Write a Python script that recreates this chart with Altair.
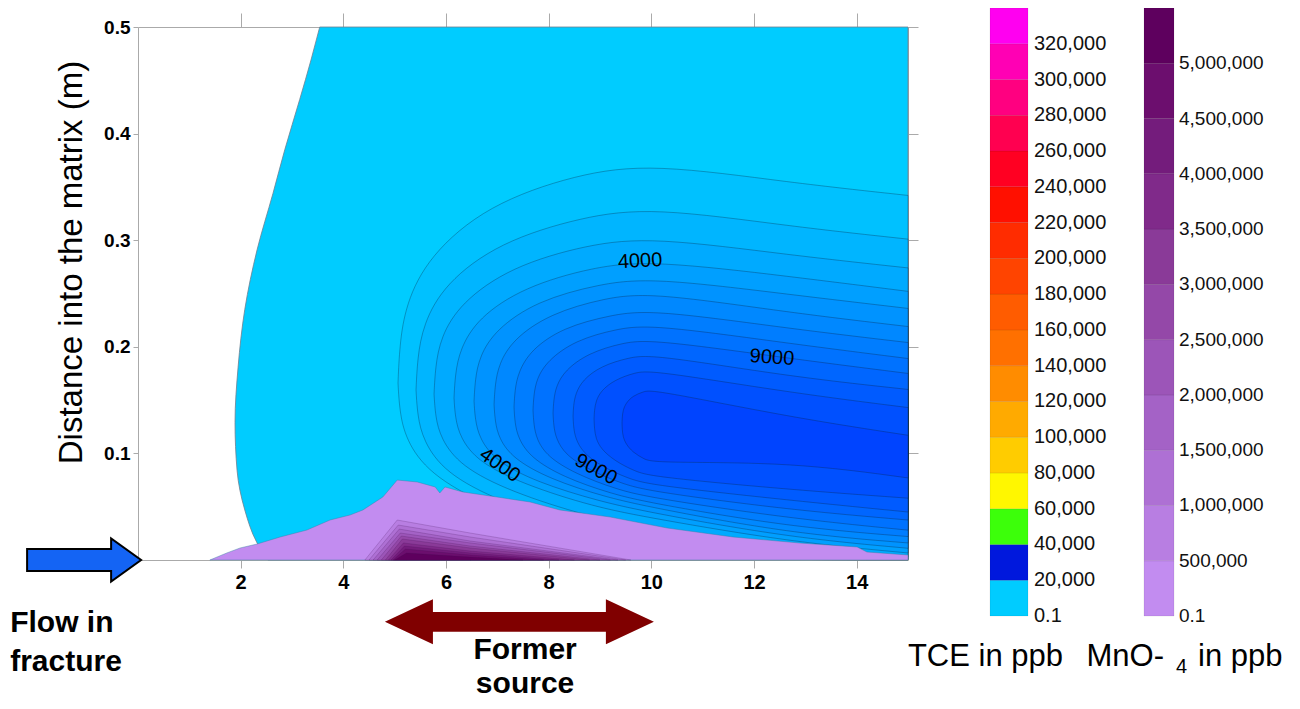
import altair as alt
import pandas as pd

# ---------------- data ----------------
# outer 0.1 ppb edge of the TCE plume: x (m) at each depth y (m)
edge_y = [0.0, 0.016, 0.047, 0.084, 0.129, 0.181, 0.235, 0.291, 0.344, 0.385, 0.432, 0.469, 0.5]
edge_x = [2.53, 2.32, 2.08, 1.93, 1.89, 1.95, 2.08, 2.32, 2.63, 2.86, 3.15, 3.37, 3.54]

# TCE contour levels (ppb): each closed contour as x, lower y, upper y
tce_levels = [1000, 2000, 3000, 4000, 5000, 6000, 7000, 8000, 9000, 10000, 11000, 12000]
tce_x = [
    [5.065, 5.095, 5.214, 5.661, 6.803, 8.541, 10.03, 12.7, 15.0],
    [5.416, 5.444, 5.554, 5.970, 7.031, 8.646, 10.03, 12.7, 15.0],
    [5.767, 5.793, 5.895, 6.279, 7.259, 8.751, 10.03, 12.7, 15.0],
    [6.156, 6.179, 6.272, 6.621, 7.512, 8.868, 10.03, 12.7, 15.0],
    [6.546, 6.567, 6.651, 6.964, 7.765, 8.985, 10.03, 12.7, 15.0],
    [6.936, 6.955, 7.029, 7.307, 8.019, 9.102, 10.03, 12.7, 15.0],
    [7.325, 7.341, 7.406, 7.650, 8.272, 9.219, 10.03, 12.7, 15.0],
    [7.695, 7.709, 7.765, 7.975, 8.512, 9.330, 10.03, 12.7, 15.0],
    [8.085, 8.097, 8.143, 8.318, 8.766, 9.447, 10.03, 12.7, 15.0],
    [8.475, 8.484, 8.522, 8.662, 9.019, 9.564, 10.03, 12.7, 15.0],
    [8.884, 8.891, 8.918, 9.022, 9.285, 9.686, 10.03, 12.7, 15.0],
    [9.429, 9.433, 9.447, 9.501, 9.639, 9.850, 10.03, 12.7, 15.0],
]
tce_hi = [
    [0.166, 0.201, 0.240, 0.285, 0.333, 0.362, 0.372, 0.354, 0.342],
    [0.1595, 0.189, 0.221, 0.259, 0.298, 0.322, 0.331, 0.313, 0.301],
    [0.1557, 0.181, 0.209, 0.241, 0.275, 0.296, 0.303, 0.286, 0.274],
    [0.152, 0.174, 0.198, 0.227, 0.256, 0.275, 0.281, 0.266, 0.252],
    [0.149, 0.169, 0.191, 0.216, 0.243, 0.259, 0.265, 0.249, 0.236],
    [0.146, 0.164, 0.184, 0.207, 0.231, 0.246, 0.251, 0.232, 0.219],
    [0.1435, 0.159, 0.176, 0.197, 0.218, 0.230, 0.235, 0.217, 0.204],
    [0.1407, 0.1544, 0.170, 0.187, 0.206, 0.217, 0.221, 0.203, 0.189],
    [0.1379, 0.1496, 0.163, 0.178, 0.194, 0.204, 0.207, 0.189, 0.175],
    [0.1351, 0.1449, 0.156, 0.169, 0.182, 0.190, 0.193, 0.172, 0.160],
    [0.1323, 0.1401, 0.149, 0.159, 0.169, 0.176, 0.178, 0.157, 0.143],
    [0.1285, 0.1339, 0.140, 0.147, 0.154, 0.158, 0.160, 0.134, 0.117],
]
tce_lo = [
    [0.166, 0.140, 0.113, 0.081, 0.050, 0.021, 0.005, 0.0, 0.0],
    [0.1595, 0.136, 0.112, 0.082, 0.055, 0.029, 0.014, 0.0075, 0.001],
    [0.1557, 0.135, 0.114, 0.088, 0.064, 0.041, 0.028, 0.012, 0.003],
    [0.152, 0.134, 0.115, 0.092, 0.071, 0.050, 0.039, 0.017, 0.0066],
    [0.149, 0.132, 0.114, 0.093, 0.073, 0.055, 0.044, 0.021, 0.011],
    [0.146, 0.1305, 0.114, 0.095, 0.076, 0.059, 0.049, 0.025, 0.016],
    [0.1435, 0.129, 0.114, 0.096, 0.078, 0.062, 0.053, 0.031, 0.022],
    [0.1407, 0.1275, 0.113, 0.097, 0.081, 0.066, 0.058, 0.039, 0.028],
    [0.1379, 0.126, 0.114, 0.099, 0.085, 0.071, 0.064, 0.047, 0.0375],
    [0.1351, 0.1247, 0.114, 0.101, 0.088, 0.076, 0.070, 0.056, 0.045],
    [0.1323, 0.1236, 0.114, 0.104, 0.093, 0.083, 0.078, 0.066, 0.058],
    [0.1285, 0.1225, 0.116, 0.109, 0.101, 0.095, 0.091, 0.092, 0.077],
]
tce_fill = ['#00CCFF', '#00C1FF', '#00B5FF', '#00AAFF', '#009FFF', '#0093FF', '#0088FF',
            '#007DFF', '#0072FF', '#0066FF', '#005BFF', '#0050FF', '#0044FF']

# MnO4- : outer (0.1 ppb) top edge
mn_x = [1.40, 1.73, 1.99, 2.32, 2.77, 3.29, 3.74, 4.13, 4.38, 4.77, 5.05, 5.44, 5.79, 5.88, 5.98,
        6.33, 6.99, 7.64, 8.22, 9.20, 10.31, 11.59, 12.90, 14.01, 14.20, 15.0]
mn_top = [0.0, 0.0066, 0.0113, 0.015, 0.0216, 0.0281, 0.0375, 0.0422, 0.0469, 0.0591, 0.0750, 0.0732,
          0.0685, 0.0629, 0.0685, 0.0638, 0.0591, 0.0544, 0.0469, 0.0403, 0.0300, 0.0216, 0.0159,
          0.0122, 0.0075, 0.0047]
mn_levels = [500000, 1000000, 1500000, 2000000, 2500000, 3000000, 3500000, 4000000, 4500000, 5000000]
mn_lx = [
    [4.42, 5.05, 6.47, 9.60], [4.50, 5.07, 6.47, 9.50], [4.58, 5.09, 6.47, 9.35],
    [4.66, 5.11, 6.47, 9.20], [4.74, 5.13, 6.47, 9.00], [4.82, 5.15, 6.47, 8.80],
    [4.88, 5.17, 6.47, 8.50], [4.93, 5.19, 6.47, 8.20], [4.97, 5.21, 6.47, 7.90],
    [5.00, 5.23, 6.47, 7.50],
]
mn_ly = [
    [0, 0.0375, 0.0253, 0], [0, 0.0328, 0.0216, 0], [0, 0.0290, 0.0178, 0],
    [0, 0.0253, 0.0160, 0], [0, 0.0225, 0.0131, 0], [0, 0.0197, 0.0113, 0],
    [0, 0.0160, 0.0084, 0], [0, 0.0131, 0.0066, 0], [0, 0.0103, 0.0047, 0],
    [0, 0.0066, 0.0028, 0],
]
mn_colors = ['#C28CF0', '#B87EE2', '#AE70D4', '#A462C6', '#9C55B8', '#9448A8', '#8A3A98',
             '#802A8A', '#741C7C', '#6C0E6E', '#5E005E']

# contour labels
lab_text = ['4000', '9000', '4000', '9000']
lab_x = [9.78, 12.35, 7.05, 8.92]
lab_y = [0.2805, 0.190, 0.089, 0.085]
lab_angle = [357, 4, 35, 28]

# axes
x_ticks = [2, 4, 6, 8, 10, 12, 14]
y_ticks = [0.1, 0.2, 0.3, 0.4, 0.5]

# colour bars
tce_breaks = [0.1, 20000, 40000, 60000, 80000, 100000, 120000, 140000, 160000, 180000, 200000,
              220000, 240000, 260000, 280000, 300000, 320000, 340000]
tce_labels = ['0.1', '20,000', '40,000', '60,000', '80,000', '100,000', '120,000', '140,000',
              '160,000', '180,000', '200,000', '220,000', '240,000', '260,000', '280,000',
              '300,000', '320,000']
tce_colors = ['#00CCFF', '#0018DD', '#3CFF0A', '#FFF700', '#FFCC00', '#FFAA00', '#FF8C00', '#FF7000',
              '#FF5C00', '#FF4400', '#FF2C00', '#FF1000', '#FF0022', '#FF0050', '#FF0080', '#FF00B4',
              '#FF00F0']
mn_breaks = [0.1, 500000, 1000000, 1500000, 2000000, 2500000, 3000000, 3500000, 4000000, 4500000,
             5000000, 5500000]
mn_labels = ['0.1', '500,000', '1,000,000', '1,500,000', '2,000,000', '2,500,000', '3,000,000',
             '3,500,000', '4,000,000', '4,500,000', '5,000,000']

# annotations
arrow_blue = {'x': [-1.05], 'y': [0.0]}
arrow_red = {'x': [7.43], 'y': [-0.058]}
notes_text = ['Flow in', 'fracture', 'Former', 'source']
notes_x = [-2.49, -2.49, 7.54, 7.54]
notes_y = [-0.059, -0.0957, -0.0845, -0.1165]
notes_align = ['left', 'left', 'center', 'center']

# ---------------- chart ----------------
SANS = "Liberation Sans, Arial, sans-serif"

xsc = alt.Scale(domain=[0, 15], nice=False, zero=False)
ysc = alt.Scale(domain=[0, 0.5], nice=False, zero=False)

layers = []
edge_df = pd.DataFrame({'y': edge_y, 'x': edge_x})
layers.append(
    alt.Chart(edge_df).mark_area(orient='horizontal', interpolate='monotone', fill=tce_fill[0],
                                 opacity=1, stroke='#6f8090', strokeWidth=0.8)
    .encode(y=alt.Y('y:Q', scale=ysc, axis=None), x=alt.X('x:Q', scale=xsc, axis=None),
            x2=alt.datum(15))
)
for i, lev in enumerate(tce_levels):
    df = pd.DataFrame({'x': tce_x[i], 'lo': tce_lo[i], 'hi': tce_hi[i]})
    layers.append(
        alt.Chart(df).mark_area(orient='vertical', interpolate='basis', fill=tce_fill[i + 1],
                                opacity=1, stroke='#0a2540', strokeWidth=0.55, strokeOpacity=0.6)
        .encode(x=alt.X('x:Q', scale=xsc, axis=None), y=alt.Y('lo:Q', scale=ysc, axis=None),
                y2='hi:Q')
    )

mn_df = pd.DataFrame({'x': mn_x, 'top': mn_top})
layers.append(
    alt.Chart(mn_df).mark_area(orient='vertical', fill=mn_colors[0], opacity=1,
                               stroke='#2f7f9f', strokeWidth=0.6, strokeOpacity=0.7)
    .encode(x=alt.X('x:Q', scale=xsc, axis=None), y=alt.Y('top:Q', scale=ysc, axis=None),
            y2=alt.datum(0))
)
for i, lev in enumerate(mn_levels):
    df = pd.DataFrame({'x': mn_lx[i], 'top': mn_ly[i]})
    layers.append(
        alt.Chart(df).mark_area(orient='vertical', fill=mn_colors[i + 1], opacity=1,
                                stroke='#3a1050', strokeWidth=0.5, strokeOpacity=0.4)
        .encode(x=alt.X('x:Q', scale=xsc, axis=None), y=alt.Y('top:Q', scale=ysc, axis=None),
                y2=alt.datum(0))
    )

lab_df = pd.DataFrame({'x': lab_x, 'y': lab_y, 't': lab_text, 'a': lab_angle})
layers.append(
    alt.Chart(lab_df).mark_text(font=SANS, fontSize=20, color='black', baseline='middle')
    .encode(x=alt.X('x:Q', scale=xsc, axis=None), y=alt.Y('y:Q', scale=ysc, axis=None),
            text='t:N', angle=alt.Angle('a:Q', scale=None))
)

frame_df = pd.DataFrame({'x': [0, 15], 'y': [0, 0.5]})
layers.append(
    alt.Chart(frame_df).mark_point(opacity=0).encode(
        x=alt.X('x:Q', scale=xsc, axis=alt.Axis(
            orient='bottom', values=x_ticks, format='d', title=None, grid=False,
            labelFont=SANS, labelFontWeight='bold', labelFontSize=20, labelColor='black',
            labelPadding=4, tickSize=8, tickColor='#aaaaaa', domainColor='#aaaaaa')),
        y=alt.Y('y:Q', scale=ysc, axis=alt.Axis(
            orient='left', values=y_ticks, format='.1f', grid=False,
            labelFont=SANS, labelFontWeight='bold', labelFontSize=19, labelColor='black',
            labelPadding=3, tickSize=5, tickColor='#aaaaaa', domainColor='#aaaaaa',
            title='Distance into the matrix (m)', titleFont=SANS, titleFontSize=33,
            titleFontWeight='normal', titleColor='black', titleX=-67, titleY=235,
            titleAngle=270, titleAlign='center', titleBaseline='middle')),
    )
)
layers.append(
    alt.Chart(frame_df).mark_point(opacity=0).encode(
        x=alt.X('x:Q', scale=xsc, axis=alt.Axis(
            orient='top', values=x_ticks, labels=False, title=None, grid=False,
            tickSize=14, tickColor='#aaaaaa', domainColor='#aaaaaa')),
        y=alt.Y('y:Q', scale=ysc, axis=alt.Axis(
            orient='right', values=y_ticks, labels=False, title=None, grid=False,
            tickSize=10, tickColor='#aaaaaa', domainColor='#aaaaaa')),
    )
)

blue_path = "M -1 -0.193 L 0.474 -0.193 L 0.474 -0.377 L 1 0 L 0.474 0.377 L 0.474 0.193 L -1 0.193 Z"
red_path = ("M -1 0 L -0.643 -0.167 L -0.643 -0.074 L 0.643 -0.074 L 0.643 -0.167 L 1 0 "
            "L 0.643 0.167 L 0.643 0.074 L -0.643 0.074 L -0.643 0.167 Z")
layers.append(
    alt.Chart(pd.DataFrame(arrow_blue)).mark_point(
        shape=blue_path, size=12996, filled=True, fill='#1464F4', stroke='black',
        strokeWidth=2, opacity=1)
    .encode(x=alt.X('x:Q', scale=xsc, axis=None), y=alt.Y('y:Q', scale=ysc, axis=None))
)
layers.append(
    alt.Chart(pd.DataFrame(arrow_red)).mark_point(
        shape=red_path, size=72361, filled=True, fill='#800000', strokeWidth=0, opacity=1)
    .encode(x=alt.X('x:Q', scale=xsc, axis=None), y=alt.Y('y:Q', scale=ysc, axis=None))
)
notes_df = pd.DataFrame({'x': notes_x, 'y': notes_y, 't': notes_text, 'al': notes_align})
for al in ['left', 'center']:
    layers.append(
        alt.Chart(notes_df[notes_df['al'] == al]).mark_text(
            font=SANS, fontSize=30, fontWeight='bold', color='black', align=al, baseline='middle')
        .encode(x=alt.X('x:Q', scale=xsc, axis=None), y=alt.Y('y:Q', scale=ysc, axis=None),
                text='t:N')
    )

main = alt.layer(*layers)

# ---- colour bars (own y scales) ----
tce_sc = alt.Scale(domain=[0.1, 340000], range=[589, -19], nice=False, zero=False)
tce_df = pd.DataFrame({'lo': tce_breaks[:-1], 'hi': tce_breaks[1:], 'c': tce_colors,
                       'lab': tce_labels})
tce_bar = alt.layer(
    alt.Chart(tce_df).mark_rect(stroke='black', strokeWidth=0.6, strokeOpacity=0.12).encode(
        y=alt.Y('lo:Q', scale=tce_sc, axis=None), y2='hi:Q',
        x=alt.value(852), x2=alt.value(890), color=alt.Color('c:N', scale=None)),
    alt.Chart(tce_df).mark_text(font=SANS, fontSize=20, align='left', baseline='middle',
                                color='#111111').encode(
        y=alt.Y('lo:Q', scale=tce_sc, axis=None), x=alt.value(896), text='lab:N'),
    alt.Chart(pd.DataFrame({'t': ['TCE in ppb']})).mark_text(
        font=SANS, fontSize=31, align='right', baseline='middle', color='black').encode(
        x=alt.value(925), y=alt.value(630), text='t:N'),
)

mn_sc = alt.Scale(domain=[0.1, 5500000], range=[589, -19], nice=False, zero=False)
mnb_df = pd.DataFrame({'lo': mn_breaks[:-1], 'hi': mn_breaks[1:], 'c': mn_colors,
                       'lab': mn_labels})
mn_bar = alt.layer(
    alt.Chart(mnb_df).mark_rect(stroke='black', strokeWidth=0.6, strokeOpacity=0.12).encode(
        y=alt.Y('lo:Q', scale=mn_sc, axis=None), y2='hi:Q',
        x=alt.value(1006), x2=alt.value(1036), color=alt.Color('c:N', scale=None)),
    alt.Chart(mnb_df).mark_text(font=SANS, fontSize=19, align='left', baseline='middle',
                                color='#111111').encode(
        y=alt.Y('lo:Q', scale=mn_sc, axis=None), x=alt.value(1041), text='lab:N'),
    alt.Chart(pd.DataFrame({'t': ['MnO-']})).mark_text(
        font=SANS, fontSize=31, align='right', baseline='middle', color='black').encode(
        x=alt.value(1026), y=alt.value(630), text='t:N'),
    alt.Chart(pd.DataFrame({'t': ['4']})).mark_text(
        font=SANS, fontSize=20, align='left', baseline='middle', color='black').encode(
        x=alt.value(1038), y=alt.value(640), text='t:N'),
    alt.Chart(pd.DataFrame({'t': ['in ppb']})).mark_text(
        font=SANS, fontSize=31, align='left', baseline='middle', color='black').encode(
        x=alt.value(1060), y=alt.value(630), text='t:N'),
)

chart = alt.layer(main, tce_bar, mn_bar).resolve_scale(y='independent').properties(
    width=770, height=533,
    padding={'left': 130, 'top': 19, 'right': 384, 'bottom': 141},
    autosize=alt.AutoSizeParams(type='none'),
    background='white',
).configure_view(stroke=None)

chart.save("out.html", embed_options={"renderer": "svg", "actions": False})
